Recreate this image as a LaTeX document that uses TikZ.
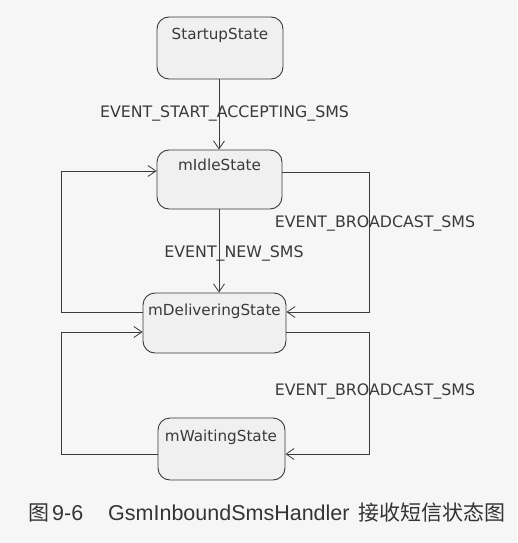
\documentclass[tikz,border=0pt]{standalone}
\usepackage{fontspec}
\setmainfont{DejaVu Sans}
\newfontfamily\cjkfont{Noto Sans CJK SC}
\newfontfamily\capfont{Liberation Sans}
\usetikzlibrary{arrows.meta}
\definecolor{ink}{HTML}{3A3A3A}
\definecolor{bg}{HTML}{F6F6F6}
\definecolor{boxfill}{HTML}{F0F0F0}
\tikzset{
  statebox/.style={draw=ink, fill=boxfill, rounded corners=12pt, line width=0.9pt, inner sep=0pt},
  statetext/.style={font=\fontsize{15.2}{17}\selectfont, text=ink, inner sep=0pt},
  evlabel/.style={font=\fontsize{15.8}{17}\selectfont, text=ink, inner sep=0pt},
  trans/.style={draw=ink, line width=0.9pt, -{Straight Barb[length=8pt,width=11pt,line width=0.8pt]}},
  captext/.style={font=\cjkfont\fontsize{21}{24}\selectfont, text=ink!90!black, inner sep=0pt},
  caplatin/.style={font=\capfont\fontsize{21.5}{24}\selectfont, text=ink!90!black, inner sep=0pt}
}
\begin{document}
\begin{tikzpicture}[x=1pt,y=-1pt]
\fill[bg] (0,0) rectangle (517,543);
\useasboundingbox (0,0) rectangle (517,543);

% states
\node[statebox, minimum width=126pt, minimum height=62pt] (start) at (220,48) {};
\node[statetext] at (220,35) {StartupState};
\node[statebox, minimum width=125pt, minimum height=59pt] (idle) at (219.5,179.5) {};
\node[statetext] at (219.5,165) {mIdleState};
\node[statebox, minimum width=143pt, minimum height=60pt] (del) at (214.5,323) {};
\node[statetext] at (214.5,311) {mDeliveringState};
\node[statebox, minimum width=127pt, minimum height=62pt] (wait) at (221.5,449) {};
\node[statetext] at (221,437) {mWaitingState};

% corner coordinates
\coordinate (r1) at (369,172);
\coordinate (r2) at (369,312);
\coordinate (r3) at (369,332);
\coordinate (r4) at (369,454);
\coordinate (l1) at (61,312);
\coordinate (l2) at (61,171);
\coordinate (l3) at (61,454);
\coordinate (l4) at (61,332);

% transitions
\draw[trans] (start.south -| 219,0) -- (idle.north -| 219,0);
\draw[trans] (idle.south -| 219,0) -- (del.north -| 219,0);
\draw[trans] (idle.east |- r1) -- (r1) -- (r2) -- (del.east |- r2);
\draw[trans] (del.west |- l1) -- (l1) -- (l2) -- (idle.west |- l2);
\draw[trans] (del.east |- r3) -- (r3) -- (r4) -- (wait.east |- r4);
\draw[trans] (wait.west |- l3) -- (l3) -- (l4) -- (del.west |- l4);

% labels
\node[evlabel] (lab1) at (224.5,113) {EVENT\_START\_ACCEPTING\_SMS};
\node[evlabel] (lab2) at (234,253) {EVENT\_NEW\_SMS};
\node[evlabel] (lab3) at (375,223) {EVENT\_BROADCAST\_SMS};
\node[evlabel] (lab4) at (375,391) {EVENT\_BROADCAST\_SMS};

% caption
\node[captext, anchor=west] (cap1) at (28,513) {图};
\node[caplatin, anchor=west] (cap1b) at (52,513) {9-6};
\node[caplatin, anchor=west] (cap2) at (108,513) {GsmInboundSmsHandler};
\node[captext, anchor=east] (cap3) at (506,513) {接收短信状态图};
\end{tikzpicture}
\end{document}
